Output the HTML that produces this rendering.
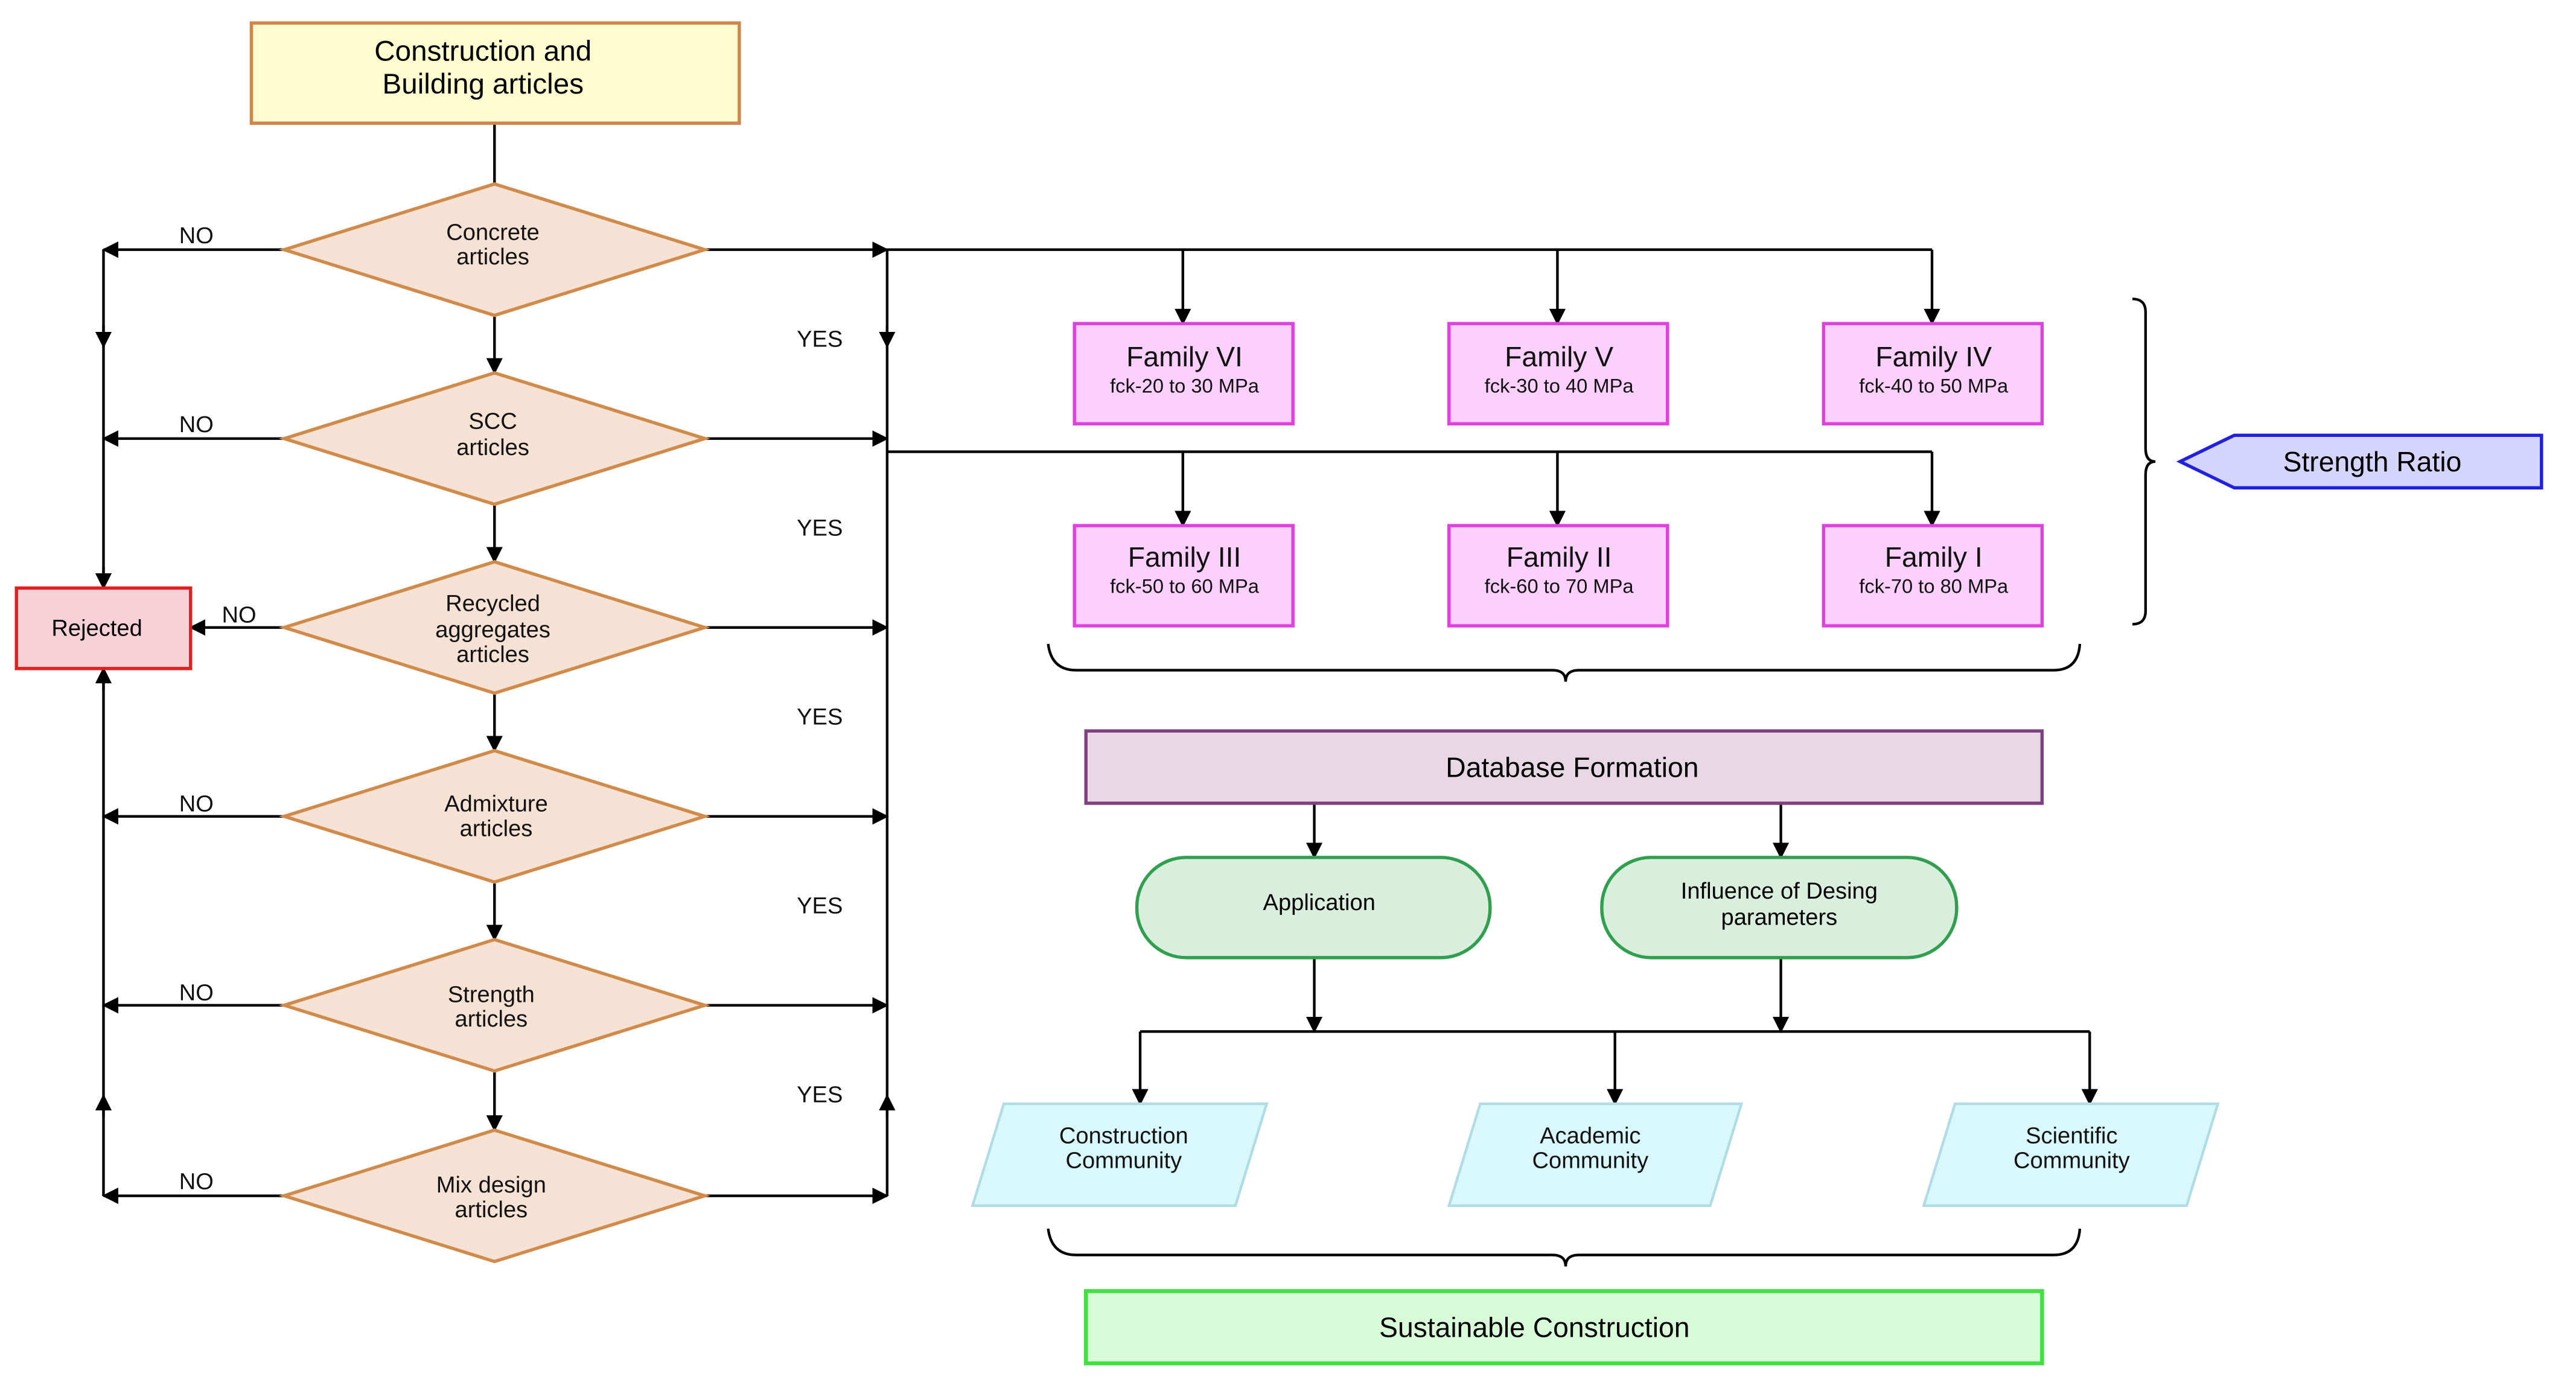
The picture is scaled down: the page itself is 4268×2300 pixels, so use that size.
<!DOCTYPE html>
<html><head><meta charset="utf-8"><style>html,body{margin:0;padding:0;background:#fff}svg{display:block}</style></head>
<body>
<svg width="4268" height="2300" viewBox="0 0 1568 845" preserveAspectRatio="none" xmlns="http://www.w3.org/2000/svg" font-family="Liberation Sans, Arial, sans-serif">
<defs>
<marker id="a" markerWidth="10" markerHeight="10" refX="9" refY="5" orient="auto" markerUnits="userSpaceOnUse"><path d="M0,0 L10,5 L0,10 z" fill="#000"/></marker>
</defs>
<rect width="1580" height="850" fill="#fff"/>
<g stroke="#000" stroke-width="1.6" fill="none">
<line x1="301" y1="75" x2="301" y2="112"/>
<line x1="63" y1="152" x2="63" y2="728"/>
<line x1="540" y1="152" x2="540" y2="728"/>
<line x1="301" y1="192" x2="301" y2="227" marker-end="url(#a)"/>
<line x1="301" y1="307" x2="301" y2="342" marker-end="url(#a)"/>
<line x1="301" y1="422" x2="301" y2="457" marker-end="url(#a)"/>
<line x1="301" y1="537" x2="301" y2="572" marker-end="url(#a)"/>
<line x1="301" y1="652" x2="301" y2="688" marker-end="url(#a)"/>
<line x1="173" y1="152" x2="63" y2="152" marker-end="url(#a)"/>
<line x1="173" y1="267" x2="63" y2="267" marker-end="url(#a)"/>
<line x1="173" y1="382" x2="116" y2="382" marker-end="url(#a)"/>
<line x1="173" y1="497" x2="63" y2="497" marker-end="url(#a)"/>
<line x1="173" y1="612" x2="63" y2="612" marker-end="url(#a)"/>
<line x1="173" y1="728" x2="63" y2="728" marker-end="url(#a)"/>
<line x1="429" y1="152" x2="540" y2="152" marker-end="url(#a)"/>
<line x1="429" y1="267" x2="540" y2="267" marker-end="url(#a)"/>
<line x1="429" y1="382" x2="540" y2="382" marker-end="url(#a)"/>
<line x1="429" y1="497" x2="540" y2="497" marker-end="url(#a)"/>
<line x1="429" y1="612" x2="540" y2="612" marker-end="url(#a)"/>
<line x1="429" y1="728" x2="540" y2="728" marker-end="url(#a)"/>
<line x1="63" y1="198" x2="63" y2="211" marker-end="url(#a)"/>
<line x1="63" y1="345" x2="63" y2="358" marker-end="url(#a)"/>
<line x1="63" y1="420" x2="63" y2="407" marker-end="url(#a)"/>
<line x1="63" y1="680" x2="63" y2="667" marker-end="url(#a)"/>
<line x1="540" y1="198" x2="540" y2="211" marker-end="url(#a)"/>
<line x1="540" y1="680" x2="540" y2="667" marker-end="url(#a)"/>
<polyline points="540,152 1176,152"/>
<line x1="720" y1="152" x2="720" y2="197" marker-end="url(#a)"/>
<line x1="948" y1="152" x2="948" y2="197" marker-end="url(#a)"/>
<line x1="1176" y1="152" x2="1176" y2="197" marker-end="url(#a)"/>
<polyline points="540,275 1176,275"/>
<line x1="720" y1="275" x2="720" y2="320" marker-end="url(#a)"/>
<line x1="948" y1="275" x2="948" y2="320" marker-end="url(#a)"/>
<line x1="1176" y1="275" x2="1176" y2="320" marker-end="url(#a)"/>
<line x1="800" y1="489" x2="800" y2="522" marker-end="url(#a)"/>
<line x1="1084" y1="489" x2="1084" y2="522" marker-end="url(#a)"/>
<line x1="800" y1="583" x2="800" y2="628" marker-end="url(#a)"/>
<line x1="1084" y1="583" x2="1084" y2="628" marker-end="url(#a)"/>
<line x1="694" y1="628" x2="1272" y2="628"/>
<line x1="694" y1="628" x2="694" y2="672" marker-end="url(#a)"/>
<line x1="983" y1="628" x2="983" y2="672" marker-end="url(#a)"/>
<line x1="1272" y1="628" x2="1272" y2="672" marker-end="url(#a)"/>
<path d="M1298,182 Q1306,182 1306,190 L1306,273 Q1306,281 1312,281 Q1306,281 1306,289 L1306,372 Q1306,380 1298,380"/>
<path d="M638,392 Q640,408 655,408 L945,408 Q953,408 953,415 Q953,408 961,408 L1250,408 Q1265,408 1266,392"/>
<path d="M638,748 Q640,764 655,764 L945,764 Q953,764 953,771 Q953,764 961,764 L1250,764 Q1265,764 1266,748"/>
</g>
<rect x="153" y="14" width="297" height="61" fill="#fffcd0" stroke="#d0864a" stroke-width="2"/>
<text x="294" y="37" font-size="17.5" text-anchor="middle">Construction and</text>
<text x="294" y="57" font-size="17.5" text-anchor="middle">Building articles</text>
<g fill="#f6e2d4" stroke="#d08a4a" stroke-width="2">
<polygon points="301,112 429,152 301,192 173,152"/>
<polygon points="301,227 429,267 301,307 173,267"/>
<polygon points="301,342 429,382 301,422 173,382"/>
<polygon points="301,457 429,497 301,537 173,497"/>
<polygon points="301,572 429,612 301,652 173,612"/>
<polygon points="301,688 429,728 301,768 173,728"/>
</g>
<g font-size="14" text-anchor="middle" fill="#111">
<text x="300" y="146">Concrete</text><text x="300" y="161">articles</text>
<text x="300" y="261">SCC</text><text x="300" y="277">articles</text>
<text x="300" y="372">Recycled</text><text x="300" y="388">aggregates</text><text x="300" y="403">articles</text>
<text x="302" y="494">Admixture</text><text x="302" y="509">articles</text>
<text x="299" y="610">Strength</text><text x="299" y="625">articles</text>
<text x="299" y="726">Mix design</text><text x="299" y="741">articles</text>
</g>
<g font-size="14" fill="#111">
<text x="109" y="148">NO</text><text x="109" y="263">NO</text><text x="135" y="379">NO</text>
<text x="109" y="494">NO</text><text x="109" y="609">NO</text><text x="109" y="724">NO</text>
<text x="485" y="211">YES</text><text x="485" y="326">YES</text><text x="485" y="441">YES</text>
<text x="485" y="556">YES</text><text x="485" y="671">YES</text>
</g>
<rect x="10" y="358" width="106" height="49" fill="#f8d0d8" stroke="#e02020" stroke-width="2"/>
<text x="59" y="387" font-size="14" text-anchor="middle">Rejected</text>
<g fill="#fcd0fc" stroke="#e040e0" stroke-width="2">
<rect x="654" y="197" width="133" height="61"/><rect x="882" y="197" width="133" height="61"/><rect x="1110" y="197" width="133" height="61"/>
<rect x="654" y="320" width="133" height="61"/><rect x="882" y="320" width="133" height="61"/><rect x="1110" y="320" width="133" height="61"/>
</g>
<g text-anchor="middle" fill="#111">
<text x="721" y="223" font-size="17">Family VI</text><text x="721" y="239" font-size="12">fck-20 to 30 MPa</text>
<text x="949" y="223" font-size="17">Family V</text><text x="949" y="239" font-size="12">fck-30 to 40 MPa</text>
<text x="1177" y="223" font-size="17">Family IV</text><text x="1177" y="239" font-size="12">fck-40 to 50 MPa</text>
<text x="721" y="345" font-size="17">Family III</text><text x="721" y="361" font-size="12">fck-50 to 60 MPa</text>
<text x="949" y="345" font-size="17">Family II</text><text x="949" y="361" font-size="12">fck-60 to 70 MPa</text>
<text x="1177" y="345" font-size="17">Family I</text><text x="1177" y="361" font-size="12">fck-70 to 80 MPa</text>
</g>
<polygon points="1327,281 1360,265 1547,265 1547,297 1360,297" fill="#d4d4fc" stroke="#2020e0" stroke-width="2"/>
<text x="1444" y="287" font-size="17" text-anchor="middle">Strength Ratio</text>
<rect x="661" y="445" width="582" height="44" fill="#e8d8e6" stroke="#804080" stroke-width="2"/>
<text x="957" y="473" font-size="17" text-anchor="middle">Database Formation</text>
<rect x="692" y="522" width="215" height="61" rx="30" fill="#daeedd" stroke="#30a050" stroke-width="2"/>
<rect x="975" y="522" width="216" height="61" rx="30" fill="#daeedd" stroke="#30a050" stroke-width="2"/>
<text x="803" y="554" font-size="14" text-anchor="middle">Application</text>
<text x="1083" y="547" font-size="14" text-anchor="middle">Influence of Desing</text>
<text x="1083" y="563" font-size="14" text-anchor="middle">parameters</text>
<g fill="#d8f8fc" stroke="#b0dce6" stroke-width="1.6">
<polygon points="611,672 771,672 752,734 592,734"/>
<polygon points="901,672 1060,672 1041,734 882,734"/>
<polygon points="1190,672 1350,672 1331,734 1171,734"/>
</g>
<g font-size="14" text-anchor="middle" fill="#111">
<text x="684" y="696">Construction</text><text x="684" y="711">Community</text>
<text x="968" y="696">Academic</text><text x="968" y="711">Community</text>
<text x="1261" y="696">Scientific</text><text x="1261" y="711">Community</text>
</g>
<rect x="661" y="786" width="582" height="44" fill="#d8fcd8" stroke="#40e040" stroke-width="2.4"/>
<text x="934" y="814" font-size="17" text-anchor="middle">Sustainable Construction</text>
</svg>
</body></html>
